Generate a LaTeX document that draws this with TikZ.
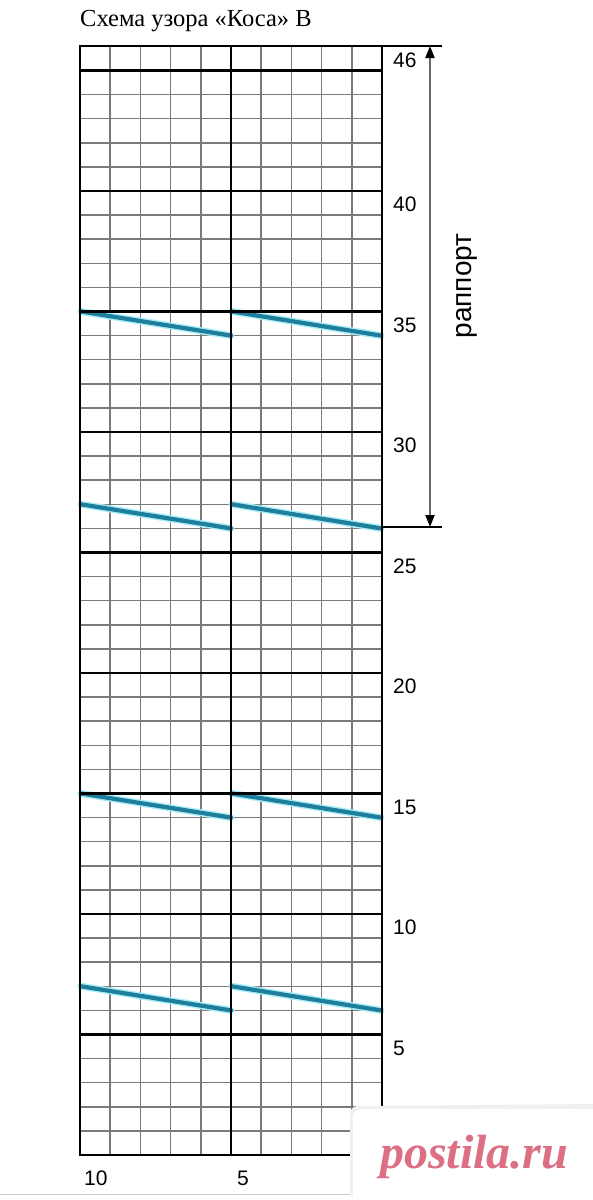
\documentclass[tikz,border=0pt]{standalone}
\usepackage{fontspec}
\setmainfont{Liberation Serif}
\newfontfamily\numfont{Liberation Sans}
\usetikzlibrary{arrows.meta}
\definecolor{gridgray}{HTML}{7A7A7A}
\definecolor{braid}{HTML}{1E7E9C}
\definecolor{halo}{HTML}{A8EEF8}
\definecolor{postpink}{HTML}{DD6F84}
\begin{document}
\begin{tikzpicture}[x=1pt,y=-1pt,
  thingrid/.style={draw=gridgray,line width=1.5pt},
  thickgrid/.style={draw=black,line width=2.8pt},
  braidhalo/.style={draw=halo,line width=7pt,line cap=round},
  braidline/.style={draw=braid,line width=4.2pt,line cap=round},
  rownum/.style={font=\numfont\fontsize{21}{21}\selectfont,anchor=west,inner sep=0pt},
  colnum/.style={font=\numfont\fontsize{21}{21}\selectfont,anchor=west,inner sep=0pt},
  dimline/.style={draw=black,line width=1.2pt},
  arrowline/.style={draw=gray!80!black,line width=2pt,{Triangle[length=12pt,width=9pt,color=black]}-{Triangle[length=12pt,width=9pt,color=black]}}
]
\useasboundingbox (0,0) rectangle (593,1200);
\fill[white] (0,0) rectangle (593,1200);

% title
\node[anchor=base west,inner sep=0pt,font=\fontsize{24.5}{24.5}\selectfont] (title) at (80,26) {Схема узора «Коса» В};

% thin grid
\foreach \i in {1,2,3,4,6,7,8,9}
  \draw[thingrid] ({80+\i*30.2},46) -- ({80+\i*30.2},1155);
\foreach \k in {1,...,44}
  \draw[thingrid] (80,{1155-24.1*\k}) -- (382,{1155-24.1*\k});

% braid strokes
\foreach \k in {35,27,15,7}{
  \draw[braidhalo] (81,{1155-24.1*\k}) -- (231,{1155-24.1*(\k-1)});
  \draw[braidhalo] (232,{1155-24.1*\k}) -- (381,{1155-24.1*(\k-1)});
  \draw[braidline] (81,{1155-24.1*\k}) -- (231,{1155-24.1*(\k-1)});
  \draw[braidline] (232,{1155-24.1*\k}) -- (381,{1155-24.1*(\k-1)});
}

% thick grid
\foreach \k in {5,10,...,45}
  \draw[thickgrid] (80,{1155-24.1*\k}) -- (382,{1155-24.1*\k});
\draw[thickgrid] (80,46) rectangle (382,1155);
\draw[thickgrid] (231,46) -- (231,1155);

% row numbers
\foreach \n in {5,10,...,40,46}
  \node[rownum] (r\n) at (393,{1155-24.1*(\n-0.5)+1.5}) {\n};

% column numbers
\node[colnum] (c10) at (84,1178) {10};
\node[colnum] (c5) at (237,1178) {5};

% rapport dimension
\coordinate (dtop) at (430,46);
\coordinate (dbot) at (430,527);
\draw[dimline] (382,46) -- (442,46);
\draw[dimline] (382,527) -- (442,527);
\draw[arrowline] (dtop) -- (dbot);
\node[font=\numfont\fontsize{28}{28}\selectfont,rotate=90,inner sep=0pt] (rap) at (467,286) {раппорт};

% bottom faint line
\draw[gray!40,line width=1pt] (0,1194) -- (380,1194);

% watermark
\fill[gray!12] (350,1106) [rounded corners=8pt] -- (350,1200) -- (600,1200) -- (600,1104) -- cycle;
\fill[white,rounded corners=8pt] (353,1109) rectangle (600,1205);
\node[anchor=base west,inner sep=0pt,text=postpink,font=\bfseries\itshape\fontsize{48}{48}\selectfont] (wm) at (380,1168) {postila.ru};
\end{tikzpicture}
\end{document}
